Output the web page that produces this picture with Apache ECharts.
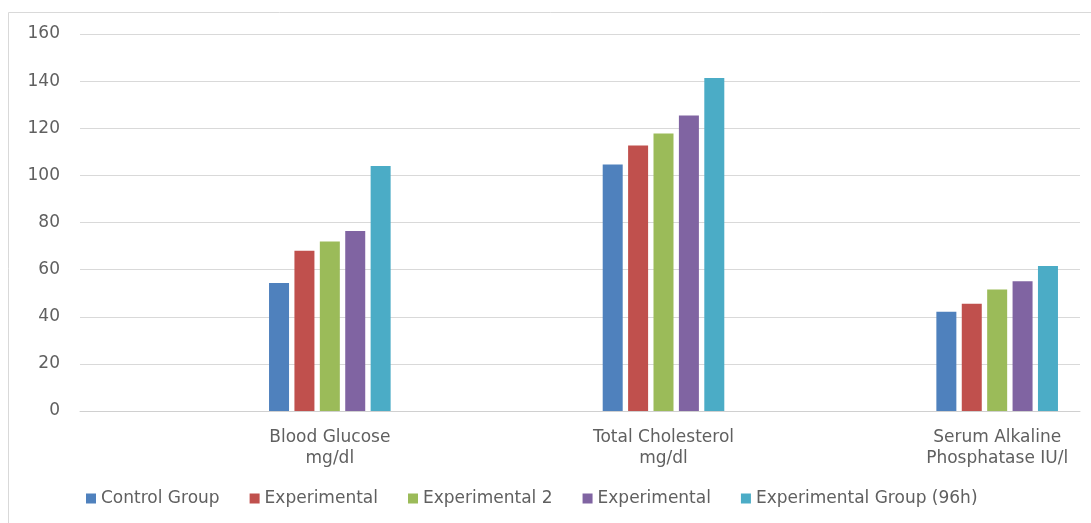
<!DOCTYPE html>
<html>
<head>
<meta charset="utf-8">
<script src="https://cdn.jsdelivr.net/npm/echarts@6/dist/echarts.min.js"></script>
<style>
    html, body {margin: 0; padding: 0; background: #fff;}
    #chart0 {width: 1091px; height: 523px;}
</style>
</head>
<body>
<div id="chart0"></div>
<script>
var categories = ['Blood Glucose\nmg/dl', 'Total Cholesterol\nmg/dl', 'Serum Alkaline\nPhosphatase IU/l'];
var seriesNames = ['Control Group', 'Experimental', 'Experimental 2', 'Experimental ', 'Experimental Group (96h)'];
var controlGroup = [54.3, 104.6, 42.1];
var experimental1 = [68, 112.7, 45.5];
var experimental2 = [71.9, 117.8, 51.6];
var experimental3 = [76.4, 125.4, 55.1];
var experimental96h = [104, 141.3, 61.5];
var yTicks = {min: 0, max: 160, interval: 20};

var colors = ['#4F81BD', '#C0504D', '#9BBB59', '#8064A2', '#4BACC6'];
var values = [controlGroup, experimental1, experimental2, experimental3, experimental96h];
var textColor = '#606060';
var fontFamily = 'DejaVu Sans';

var series = [];
for (var i = 0; i < seriesNames.length; i++) {
    series.push({
        name: seriesNames[i],
        type: 'bar',
        xAxisIndex: 1,
        yAxisIndex: 1,
        barWidth: 20,
        barGap: '27%',
        itemStyle: {color: colors[i]},
        data: values[i]
    });
}

var option0 = {
    animation: false,
    color: colors,
    graphic: [{
        type: 'rect',
        shape: {x: 8.5, y: 12.5, width: 1120, height: 540},
        style: {fill: 'none', stroke: '#d9d9d9', lineWidth: 1},
        silent: true
    }],
    legend: {
        left: 81,
        top: 485,
        itemWidth: 10,
        itemHeight: 10,
        itemGap: 30,
        icon: 'rect',
        data: seriesNames,
        formatter: function (name) {
            return name.trim();
        },
        textStyle: {color: textColor, fontSize: 17, fontFamily: fontFamily}
    },
    grid: [
        {left: 80, right: 11, top: 34, height: 377, outerBoundsMode: 'none'},
        // bars sit right of the category centres in the original, so this grid runs past the canvas
        {left: 163, width: 1001, top: 34, height: 377, outerBoundsMode: 'none'}
    ],
    xAxis: [
        {
            type: 'value',
            gridIndex: 0,
            min: 0,
            max: 1,
            axisLine: {show: true, lineStyle: {color: '#d0d0d0', width: 1}},
            axisTick: {show: false},
            axisLabel: {show: false},
            splitLine: {show: false}
        },
        {
            type: 'category',
            gridIndex: 1,
            data: categories,
            axisLine: {show: false},
            axisTick: {show: false},
            axisLabel: {
                margin: 16,
                color: textColor,
                fontSize: 17,
                lineHeight: 21,
                fontFamily: fontFamily
            }
        }
    ],
    yAxis: [
        {
            type: 'value',
            gridIndex: 0,
            min: yTicks.min,
            max: yTicks.max,
            interval: yTicks.interval,
            axisLine: {show: false},
            axisTick: {show: false},
            axisLabel: {margin: 20, color: textColor, fontSize: 17, fontFamily: fontFamily},
            splitLine: {lineStyle: {color: '#d9d9d9', width: 1}}
        },
        {
            type: 'value',
            gridIndex: 1,
            min: yTicks.min,
            max: yTicks.max,
            interval: yTicks.interval,
            show: false,
            splitLine: {show: false}
        }
    ],
    series: series
};

var myChart0 = echarts.init(document.getElementById('chart0'));
myChart0.setOption(option0);
</script>
</body>
</html>
